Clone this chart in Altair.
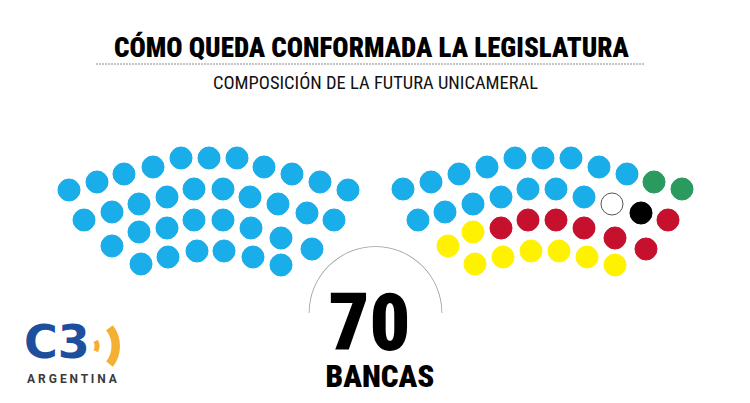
import altair as alt
import pandas as pd

# ---- seat layout (image-style coordinates: x to the right, y downwards) ----
left_x = [69, 97, 124, 153, 181, 209, 237, 264, 292, 320, 348,
          84, 112, 139, 167, 194, 223, 250, 278, 307, 334,
          112, 139, 167, 194, 223, 251, 281, 312,
          141, 168, 197, 224, 253, 281]
left_y = [190, 182, 174, 167, 158, 158, 158, 167, 174, 182, 190,
          220, 212, 204, 197, 189, 189, 197, 204, 213, 220,
          246, 232, 228, 220, 220, 228, 238, 249,
          264, 257, 251, 251, 257, 265]
left_party = ["celeste"] * 35

right_x = [403, 431, 459, 487, 515, 543, 571, 599, 627, 654, 682,
           418, 445, 473, 501, 528, 556, 584, 612, 641, 668,
           448, 473, 501, 528, 556, 584, 615, 646,
           475, 503, 531, 559, 587, 615]
right_y = [189, 182, 174, 167, 158, 158, 158, 167, 174, 182, 189,
           220, 212, 204, 197, 189, 189, 197, 204, 213, 220,
           246, 232, 228, 220, 220, 228, 238, 249,
           264, 257, 251, 251, 257, 265]
right_party = (["celeste"] * 9 + ["verde"] * 2
               + ["celeste"] * 7 + ["blanco", "negro", "rojo"]
               + ["amarillo"] * 2 + ["rojo"] * 6
               + ["amarillo"] * 6)

parties = ["celeste", "verde", "blanco", "negro", "rojo", "amarillo"]
party_fill = ["#19ade9", "#2b9a5f", "#ffffff", "#000000", "#c5112d", "#fff200"]
party_stroke = ["#19ade9", "#2b9a5f", "#555555", "#000000", "#c5112d", "#fff200"]

title_text = "CÓMO QUEDA CONFORMADA LA LEGISLATURA"
subtitle_text = "COMPOSICIÓN DE LA FUTURA UNICAMERAL"
total_text = "70"
total_label = "BANCAS"
logo_text = "C3"
logo_sub = "A R G E N T I N A"

seats = pd.DataFrame({
    "x": left_x + right_x,
    "y": left_y + right_y,
    "party": left_party + right_party,
})

W, H = 734, 387
xs = alt.Scale(domain=[8, 8 + W], range=[0, W], nice=False, zero=False)
ys = alt.Scale(domain=[8, 8 + H], reverse=True, nice=False, zero=False)


def X(field="x"):
    return alt.X(field, type="quantitative", scale=xs, axis=None)


def Y(field="y"):
    return alt.Y(field, type="quantitative", scale=ys, axis=None)


seat_layer = alt.Chart(seats).mark_circle(size=485, opacity=1, strokeWidth=1).encode(
    x=X(), y=Y(),
    fill=alt.Fill("party:N", scale=alt.Scale(domain=parties, range=party_fill), legend=None),
    stroke=alt.Stroke("party:N", scale=alt.Scale(domain=parties, range=party_stroke), legend=None),
)


def text_layer(txt, x, y, size, weight, font, color="#000000", align="center"):
    df = pd.DataFrame({"x": [x], "y": [y], "t": [txt]})
    return alt.Chart(df).mark_text(
        font=font, fontSize=size, fontWeight=weight, color=color,
        align=align, baseline="alphabetic",
    ).encode(x=X(), y=Y(), text="t:N")


title = text_layer(title_text, 371.5, 57, 27, 900, "Roboto Condensed")
subtitle = text_layer(subtitle_text, 375.5, 89, 18.5, 400, "Roboto Condensed", color="#111111")

rule_df = pd.DataFrame({"x": [96], "x2": [645], "y": [64]})
dotted = alt.Chart(rule_df).mark_rule(color="#8a8a8a", strokeWidth=1, strokeDash=[2, 1]).encode(
    x=X(), x2="x2", y=Y()
)

arc_df = pd.DataFrame({"x": [375.5], "y": [313]})
half_circle = alt.Chart(arc_df).mark_arc(
    radius=66.8, radius2=66.0, theta=4.712, theta2=7.854, color="#9c9c9c"
).encode(x=X(), y=Y())

big_num = text_layer(total_text, 369.5, 350, 80, 900, "Roboto Condensed")
bancas = text_layer(total_label, 380, 387, 31, 900, "Roboto Condensed")

logo_c3 = text_layer(logo_text, 24, 358, 46, 700, "DejaVu Sans", color="#1d4f9e", align="left")
logo_arg = text_layer(logo_sub, 27, 383, 12, 700, "Roboto", color="#3a3a3a", align="left")

wave_df = pd.DataFrame({"x": [86], "y": [346]})
wave_big = alt.Chart(wave_df).mark_arc(
    radius=34, radius2=25.5, theta=0.91, theta2=2.23, color="#f4b033"
).encode(x=X(), y=Y())
wave_small = alt.Chart(wave_df).mark_arc(
    radius=13.5, radius2=8.5, theta=1.08, theta2=2.06, color="#f4b033"
).encode(x=X(), y=Y())

chart = alt.layer(
    dotted, title, subtitle, half_circle, seat_layer, big_num, bancas,
    wave_big, wave_small, logo_c3, logo_arg,
).properties(
    width=W, height=H, padding=0, autosize="none", background="#ffffff"
).configure_view(stroke=None)

chart.save("out.html", embed_options={"renderer": "svg", "actions": False})
